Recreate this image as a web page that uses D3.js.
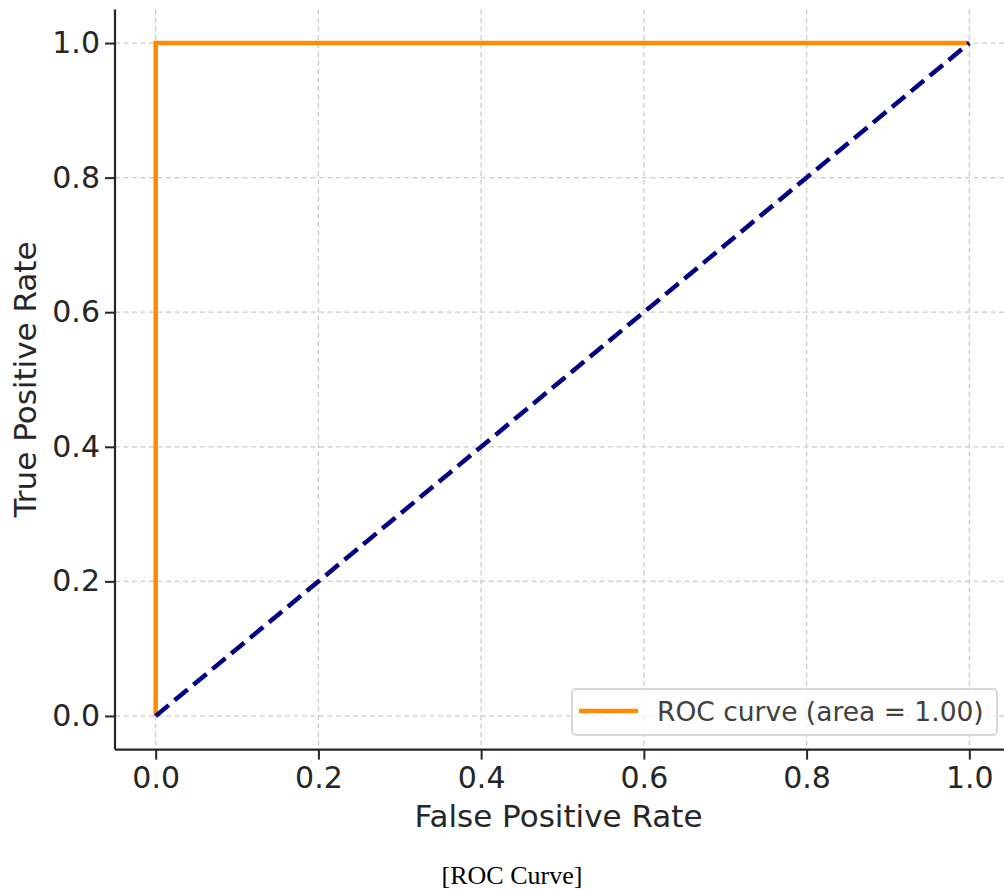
<!DOCTYPE html>
<html>
<head>
<meta charset="utf-8">
<script src="https://cdn.jsdelivr.net/npm/d3@7"></script>
<style>
  body { margin: 0; background: #fff; }
  svg { display: block; }
  .tick text { font-family: "DejaVu Sans", sans-serif; }
</style>
</head>
<body>
<svg id="roc"></svg>
<script>
// data
var fpr = [0.0, 0.0, 1.0];
var tpr = [0.0, 1.0, 1.0];
var chanceX = [0.0, 1.0];
var chanceY = [0.0, 1.0];
var tickValues = [0.0, 0.2, 0.4, 0.6, 0.8, 1.0];
var legendLabel = "ROC curve (area = 1.00)";
var titleText = "Receiver Operating Characteristic";

const W = 1004, H = 890;
// plot area (axes box), right side runs past the picture edge
const plotL = 115, plotT = 9.4, plotR = 1010, plotB = 749.6;

var svg = d3.select("#roc").attr("width", W).attr("height", H);

var x = d3.scaleLinear().domain([-0.05, 1.05]).range([plotL, plotR]);
var y = d3.scaleLinear().domain([-0.05, 1.05]).range([plotB, plotT]);

// title, cut off at the top of the picture (only descender tips show)
svg.append("text")
    .attr("x", (plotL + plotR) / 2)
    .attr("y", -9.5)
    .attr("text-anchor", "middle")
    .attr("font-family", "DejaVu Sans, sans-serif")
    .attr("font-weight", "bold")
    .attr("font-size", 34)
    .attr("fill", "#262626")
    .text(titleText);

// grid
var grid = svg.append("g");
tickValues.forEach(function (t) {
    grid.append("line")
        .attr("x1", x(t)).attr("x2", x(t))
        .attr("y1", plotT).attr("y2", plotB)
        .attr("stroke", "#cccccc").attr("stroke-width", 1.3)
        .attr("stroke-dasharray", "5,3.5");
    grid.append("line")
        .attr("x1", plotL).attr("x2", plotR)
        .attr("y1", y(t)).attr("y2", y(t))
        .attr("stroke", "#cccccc").attr("stroke-width", 1.3)
        .attr("stroke-dasharray", "5,3.5");
});

// axes
var xAxis = svg.append("g")
    .attr("transform", "translate(0," + plotB + ")")
    .call(d3.axisBottom(x).tickValues(tickValues).tickFormat(d3.format(".1f")).tickSize(10).tickPadding(7));
var yAxis = svg.append("g")
    .attr("transform", "translate(" + plotL + ",0)")
    .call(d3.axisLeft(y).tickValues(tickValues).tickFormat(d3.format(".1f")).tickSize(10).tickPadding(5));

[xAxis, yAxis].forEach(function (a) {
    a.select(".domain").attr("stroke", "#262626").attr("stroke-width", 2.2);
    a.selectAll(".tick line").attr("stroke", "#262626").attr("stroke-width", 2);
    a.selectAll(".tick text").attr("font-size", 30).attr("fill", "#262626");
});
// no outer ticks on the spines
xAxis.select(".domain").attr("d", "M" + plotL + ",0H" + W);
yAxis.select(".domain").attr("d", "M0," + plotT + "V" + plotB);

// axis labels
svg.append("text")
    .attr("x", (plotL + plotR) / 2 - 4)
    .attr("y", 827)
    .attr("text-anchor", "middle")
    .attr("font-family", "DejaVu Sans, sans-serif")
    .attr("font-size", 31)
    .attr("fill", "#262626")
    .text("False Positive Rate");

svg.append("text")
    .attr("transform", "translate(36," + ((plotT + plotB) / 2) + ") rotate(-90)")
    .attr("text-anchor", "middle")
    .attr("font-family", "DejaVu Sans, sans-serif")
    .attr("font-size", 31)
    .attr("fill", "#262626")
    .text("True Positive Rate");

// lines
var line = d3.line()
    .x(function (d) { return x(d[0]); })
    .y(function (d) { return y(d[1]); });

svg.append("path")
    .datum(fpr.map(function (v, i) { return [v, tpr[i]]; }))
    .attr("d", line)
    .attr("fill", "none")
    .attr("stroke", "#ff8c00")
    .attr("stroke-width", 4.5)
    .attr("stroke-linejoin", "miter");

svg.append("path")
    .datum(chanceX.map(function (v, i) { return [v, chanceY[i]]; }))
    .attr("d", line)
    .attr("fill", "none")
    .attr("stroke", "#000080")
    .attr("stroke-width", 4.5)
    .attr("stroke-dasharray", "17,7.5");

// legend
var lg = svg.append("g");
lg.append("rect")
    .attr("x", 572).attr("y", 689)
    .attr("width", 425).attr("height", 46)
    .attr("rx", 4)
    .attr("fill", "rgba(255,255,255,0.8)")
    .attr("stroke", "#cccccc").attr("stroke-width", 1.5);
lg.append("line")
    .attr("x1", 579).attr("x2", 638)
    .attr("y1", 711).attr("y2", 711)
    .attr("stroke", "#ff8c00").attr("stroke-width", 4.5);
lg.append("text")
    .attr("x", 657).attr("y", 721)
    .attr("font-family", "DejaVu Sans, sans-serif")
    .attr("font-size", 26.5)
    .attr("fill", "#404040")
    .text(legendLabel);

// caption
svg.append("text")
    .attr("x", 512).attr("y", 884)
    .attr("text-anchor", "middle")
    .attr("font-family", "Liberation Serif, Times New Roman, serif")
    .attr("font-size", 26)
    .attr("fill", "#000")
    .text("[ROC Curve]");
</script>
</body>
</html>
